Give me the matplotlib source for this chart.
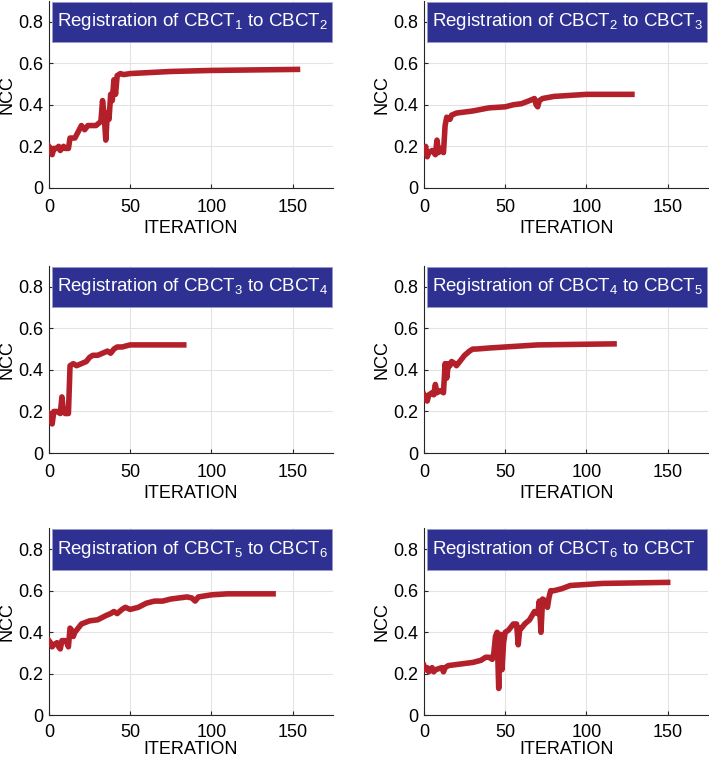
import matplotlib
matplotlib.use("Agg")
import matplotlib.pyplot as plt
from matplotlib.patches import Rectangle

plt.rcParams['font.family'] = ['Liberation Sans', 'DejaVu Sans']
plt.rcParams['mathtext.default'] = 'regular'

# NCC vs iteration for each registration
x12 = [0, 1, 2, 3, 5, 6, 7, 8, 9, 10, 12, 13, 16, 18, 20, 22, 24, 29, 32, 33, 34, 35, 36, 37, 38, 39, 40, 41, 42, 44, 46, 50, 75, 100, 153]
y12 = [0.20, 0.19, 0.16, 0.19, 0.19, 0.20, 0.18, 0.19, 0.20, 0.19, 0.19, 0.24, 0.24, 0.27, 0.30, 0.28, 0.30, 0.30, 0.32, 0.42, 0.35, 0.23, 0.36, 0.33, 0.45, 0.42, 0.52, 0.45, 0.54, 0.55, 0.545, 0.55, 0.56, 0.565, 0.57]

x23 = [0, 1, 2, 3, 5, 7, 8, 9, 10, 12, 13, 14, 16, 17, 20, 30, 40, 50, 55, 60, 65, 68, 69, 70, 71, 73, 80, 90, 100, 128]
y23 = [0.19, 0.20, 0.15, 0.17, 0.18, 0.16, 0.23, 0.17, 0.19, 0.17, 0.30, 0.34, 0.33, 0.35, 0.36, 0.37, 0.385, 0.39, 0.40, 0.405, 0.42, 0.43, 0.40, 0.39, 0.42, 0.43, 0.44, 0.445, 0.45, 0.45]

x34 = [0, 1, 2, 3, 5, 7, 8, 9, 10, 12, 13, 15, 17, 20, 23, 25, 27, 30, 33, 36, 38, 40, 42, 45, 50, 83]
y34 = [0.19, 0.18, 0.14, 0.20, 0.20, 0.19, 0.27, 0.20, 0.19, 0.19, 0.42, 0.43, 0.42, 0.43, 0.44, 0.46, 0.47, 0.47, 0.48, 0.49, 0.48, 0.50, 0.51, 0.51, 0.52, 0.52]

x45 = [0, 1, 2, 3, 5, 6, 7, 8, 10, 12, 13, 14, 15, 16, 17, 19, 20, 22, 25, 28, 30, 32, 40, 50, 60, 70, 117]
y45 = [0.28, 0.26, 0.25, 0.28, 0.29, 0.28, 0.33, 0.29, 0.30, 0.29, 0.43, 0.36, 0.43, 0.42, 0.44, 0.43, 0.42, 0.44, 0.47, 0.49, 0.50, 0.50, 0.505, 0.51, 0.515, 0.52, 0.525]

x56 = [0, 1, 2, 3, 5, 6, 7, 8, 10, 11, 12, 13, 14, 15, 16, 18, 20, 25, 30, 35, 38, 40, 42, 45, 47, 50, 55, 60, 65, 70, 75, 80, 85, 88, 90, 92, 100, 110, 138]
y56 = [0.36, 0.35, 0.33, 0.34, 0.35, 0.33, 0.32, 0.36, 0.36, 0.35, 0.33, 0.42, 0.41, 0.38, 0.40, 0.42, 0.44, 0.455, 0.46, 0.48, 0.49, 0.50, 0.49, 0.51, 0.52, 0.51, 0.52, 0.54, 0.55, 0.55, 0.56, 0.565, 0.57, 0.565, 0.55, 0.57, 0.58, 0.585, 0.585]

x6 = [0, 1, 2, 3, 5, 6, 7, 9, 11, 12, 13, 15, 20, 25, 30, 35, 38, 40, 42, 43, 44, 45, 46, 46.5, 47, 48, 49, 50, 52, 55, 57, 58, 59, 60, 62, 65, 68, 70, 71, 72, 73, 75, 76, 77, 78, 80, 85, 90, 100, 110, 150]
y6 = [0.24, 0.22, 0.23, 0.21, 0.23, 0.21, 0.22, 0.225, 0.23, 0.21, 0.23, 0.24, 0.245, 0.25, 0.255, 0.265, 0.28, 0.28, 0.27, 0.30, 0.38, 0.40, 0.13, 0.30, 0.39, 0.22, 0.35, 0.40, 0.41, 0.44, 0.44, 0.34, 0.42, 0.42, 0.44, 0.46, 0.50, 0.49, 0.55, 0.40, 0.56, 0.55, 0.52, 0.57, 0.60, 0.60, 0.61, 0.625, 0.63, 0.635, 0.64]

titles = [
    "Registration of CBCT$_1$ to CBCT$_2$",
    "Registration of CBCT$_2$ to CBCT$_3$",
    "Registration of CBCT$_3$ to CBCT$_4$",
    "Registration of CBCT$_4$ to CBCT$_5$",
    "Registration of CBCT$_5$ to CBCT$_6$",
    "Registration of CBCT$_6$ to CBCT",
]
series = [(x12, y12), (x23, y23), (x34, y34), (x45, y45), (x56, y56), (x6, y6)]

red = "#B3202A"
blue = "#2E3192"

fig = plt.figure(figsize=(7.09, 7.64), dpi=100)
lefts = [0.069, 0.598]
bottoms = [0.754, 0.407, 0.0635]
w, h = 0.401, 0.245

for i, ((xs, ys), title) in enumerate(zip(series, titles)):
    ax = fig.add_axes([lefts[i % 2], bottoms[i // 2], w, h])
    ax.plot(xs, ys, color=red, lw=4, solid_joinstyle='round', zorder=3)
    ax.set_xlim(0, 175)
    ax.set_ylim(0, 0.9)
    ax.set_xticks([0, 50, 100, 150])
    ax.set_yticks([0, 0.2, 0.4, 0.6, 0.8])
    ax.set_yticklabels(["0", "0.2", "0.4", "0.6", "0.8"])
    ax.grid(True, color="#E3E3E3", lw=0.8)
    ax.set_axisbelow(True)
    for s in ["top", "right"]:
        ax.spines[s].set_visible(False)
    ax.spines["left"].set_color("#262626")
    ax.spines["bottom"].set_color("#262626")
    ax.tick_params(direction="in", length=3, labelsize=13, colors="#262626", labelcolor="black")
    bottom_row = i >= 4
    ax.tick_params(axis="x", pad=6 if bottom_row else 8)
    ax.tick_params(axis="y", pad=4)
    ax.set_xlabel("ITERATION", fontsize=13, labelpad=0 if bottom_row else 3)
    ax.set_ylabel("NCC", fontsize=13, labelpad=2)
    ax.add_patch(Rectangle((2, 0.70), 172.5, 0.195, facecolor=blue, edgecolor="#9A9AC8",
                           lw=0.6, zorder=4, clip_on=False))
    ax.text(5, 0.8, title, color="white", fontsize=13.5, va="center", ha="left", zorder=5)

fig.savefig("out.png", dpi=100)
